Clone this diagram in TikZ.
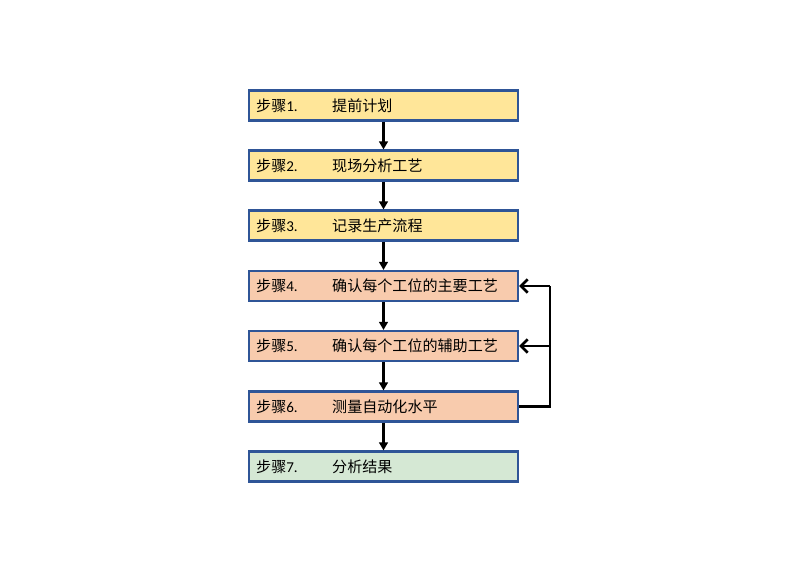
\documentclass[tikz,border=0pt]{standalone}
\usepackage{fontspec}
\setmainfont{Carlito}
\newfontfamily\cjk{Noto Sans CJK SC}
\usetikzlibrary{arrows.meta}
\definecolor{bordblue}{HTML}{2F5597}
\definecolor{fyellow}{HTML}{FFE699}
\definecolor{forange}{HTML}{F8CBAD}
\definecolor{fgreen}{HTML}{D5E8D4}
\tikzset{
  stepbox/.style={draw=bordblue, line width=1.6pt, minimum width=201.75pt, minimum height=22.5pt, inner sep=0pt},
  steplabel/.style={anchor=west, inner sep=0pt, font=\fontsize{11.3pt}{13pt}\selectfont},
  conn/.style={line width=1.8pt, -{Triangle[length=6pt,width=6.5pt]}},
  back/.style={line width=1.8pt, -{Straight Barb[length=5pt,width=10pt,line width=2pt]}},
  backline/.style={line width=1.8pt}
}
\begin{document}
\begin{tikzpicture}[x=0.75pt,y=-0.75pt]
\useasboundingbox (0,0) rectangle (800,570);
\node[stepbox, fill=fyellow] (s1) at (383.5,105.5) {};
\node[stepbox, fill=fyellow] (s2) at (383.5,165.5) {};
\node[stepbox, fill=fyellow] (s3) at (383.5,225.5) {};
\node[stepbox, fill=forange] (s4) at (383.5,286) {};
\node[stepbox, fill=forange] (s5) at (383.5,346) {};
\node[stepbox, fill=forange] (s6) at (383.5,406.5) {};
\node[stepbox, fill=fgreen] (s7) at (383.5,466.5) {};
\foreach \i/\t in {1/提前计划,2/现场分析工艺,3/记录生产流程,4/确认每个工位的主要工艺,5/确认每个工位的辅助工艺,6/测量自动化水平,7/分析结果}{
  \node[steplabel] (l\i) at ([xshift=6pt]s\i.west) {{\cjk 步骤}\i.};
  \node[steplabel] (t\i) at ([xshift=63pt]s\i.west) {\cjk \t};
}
\draw[conn] (s1) -- (s2);
\draw[conn] (s2) -- (s3);
\draw[conn] (s3) -- (s4);
\draw[conn] (s4) -- (s5);
\draw[conn] (s5) -- (s6);
\draw[conn] (s6) -- (s7);
\coordinate (c6) at (550,406.5);
\coordinate (c5) at (550,346);
\coordinate (c4) at (550,286);
\draw[backline] (s6.east) -- (c6) -- (c4);
\draw[back] (c4) -- (s4.east);
\draw[back] (c5) -- (s5.east);
\end{tikzpicture}
\end{document}
